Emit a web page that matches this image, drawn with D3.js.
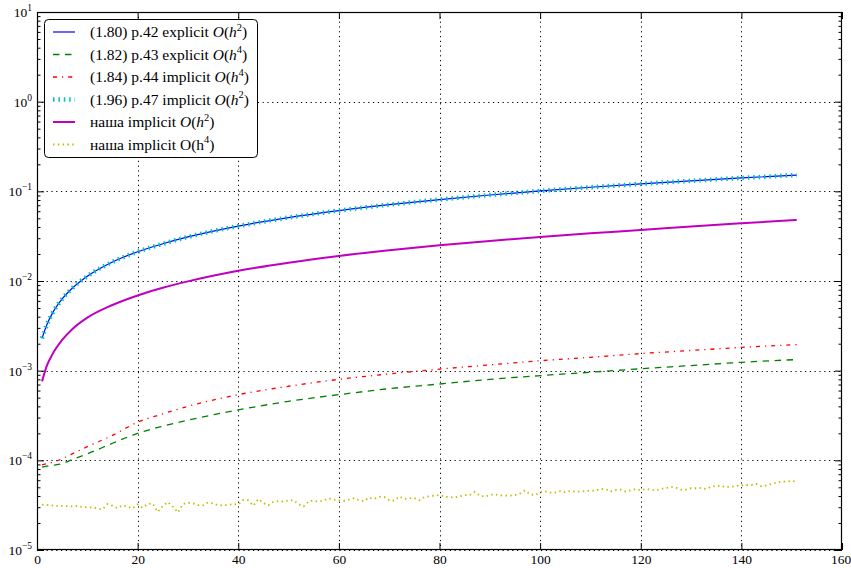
<!DOCTYPE html>
<html><head><meta charset="utf-8">
<script src="https://cdn.jsdelivr.net/npm/d3@7"></script>
<style>
body{margin:0;background:#fff}
svg{display:block}
text{font-family:"Liberation Serif","Times New Roman",serif;fill:#000}
</style>
</head><body>
<svg id="c" width="851" height="568"></svg>
<script>
// ---------- data ----------
const xSmooth = [1, 2, 3, 5, 7, 10, 15, 20, 25, 30, 40, 50, 60, 70, 80, 90, 100, 110, 120, 130, 140, 151];
const s180 = [0.0023, 0.0033, 0.0043, 0.0063, 0.0083, 0.0113, 0.0163, 0.0212, 0.026, 0.031, 0.041, 0.051, 0.061, 0.071, 0.081, 0.091, 0.101, 0.111, 0.121, 0.131, 0.141, 0.152];
const s182 = [8.4e-5, 8.6e-5, 8.8e-5, 9.2e-5, 1.02e-4, 1.18e-4, 1.55e-4, 2.0e-4, 2.4e-4, 2.8e-4, 3.65e-4, 4.55e-4, 5.4e-4, 6.3e-4, 7.1e-4, 8.0e-4, 8.8e-4, 9.6e-4, 1.05e-3, 1.14e-3, 1.24e-3, 1.33e-3];
const s184 = [8.9e-5, 9.2e-5, 9.5e-5, 1.04e-4, 1.18e-4, 1.42e-4, 1.9e-4, 2.66e-4, 3.3e-4, 4.0e-4, 5.4e-4, 6.7e-4, 8.0e-4, 9.2e-4, 1.04e-3, 1.16e-3, 1.29e-3, 1.41e-3, 1.55e-3, 1.68e-3, 1.82e-3, 1.95e-3];
const s196 = [0.0023, 0.0033, 0.0043, 0.0063, 0.0083, 0.0113, 0.0163, 0.0212, 0.026, 0.031, 0.041, 0.051, 0.061, 0.071, 0.081, 0.091, 0.101, 0.111, 0.121, 0.131, 0.141, 0.152];
const sOurH2 = [7.6e-4, 1.15e-3, 1.5e-3, 2.2e-3, 2.9e-3, 3.9e-3, 5.4e-3, 6.9e-3, 8.4e-3, 9.9e-3, 1.3e-2, 1.6e-2, 1.9e-2, 2.2e-2, 2.5e-2, 2.8e-2, 3.1e-2, 3.4e-2, 3.7e-2, 4.05e-2, 4.4e-2, 4.8e-2];
const xNoisy = d3.range(1, 152);
const sOurH4 = [
3.20e-5,3.18e-5,3.14e-5,3.10e-5,3.10e-5,3.08e-5,3.07e-5,3.09e-5,3.02e-5,2.99e-5,
2.99e-5,2.90e-5,2.84e-5,3.25e-5,3.12e-5,2.93e-5,3.15e-5,3.04e-5,2.92e-5,3.22e-5,
2.96e-5,3.26e-5,3.30e-5,2.66e-5,3.10e-5,3.43e-5,3.05e-5,2.62e-5,3.25e-5,3.37e-5,
3.32e-5,3.16e-5,3.15e-5,3.40e-5,3.30e-5,3.16e-5,3.15e-5,3.17e-5,3.26e-5,3.20e-5,
3.61e-5,3.58e-5,3.12e-5,3.71e-5,3.32e-5,3.16e-5,3.46e-5,3.52e-5,3.46e-5,3.58e-5,
3.58e-5,3.24e-5,3.06e-5,3.50e-5,3.55e-5,3.46e-5,3.58e-5,3.78e-5,3.64e-5,3.58e-5,
3.52e-5,3.64e-5,3.78e-5,3.60e-5,3.50e-5,3.84e-5,3.70e-5,3.93e-5,3.90e-5,3.60e-5,
3.55e-5,3.95e-5,3.71e-5,3.78e-5,3.80e-5,3.58e-5,3.90e-5,3.97e-5,4.04e-5,4.10e-5,
3.93e-5,3.90e-5,3.84e-5,3.97e-5,4.10e-5,4.10e-5,4.45e-5,4.04e-5,3.92e-5,4.12e-5,
4.18e-5,4.06e-5,4.04e-5,4.04e-5,4.10e-5,4.25e-5,4.62e-5,4.18e-5,4.10e-5,4.40e-5,
4.52e-5,4.36e-5,4.36e-5,4.55e-5,4.40e-5,4.55e-5,4.48e-5,4.48e-5,4.55e-5,4.59e-5,
4.59e-5,4.79e-5,4.79e-5,4.48e-5,4.67e-5,4.71e-5,4.48e-5,4.63e-5,4.79e-5,4.63e-5,
4.79e-5,4.71e-5,4.63e-5,4.79e-5,4.92e-5,5.05e-5,4.96e-5,4.71e-5,4.71e-5,4.88e-5,
4.88e-5,4.92e-5,4.79e-5,5.09e-5,5.18e-5,5.18e-5,5.00e-5,5.09e-5,5.18e-5,5.25e-5,
5.31e-5,5.31e-5,5.45e-5,5.12e-5,5.25e-5,5.45e-5,5.66e-5,5.78e-5,5.78e-5,5.89e-5,
5.80e-5];

const xTicks = [0, 20, 40, 60, 80, 100, 120, 140, 160];
const yDecades = [1e-5, 1e-4, 1e-3, 1e-2, 1e-1, 1, 10];
const yExponents = [-5, -4, -3, -2, -1, 0, 1];

const legendLabels = ["(1.80) p.42 explicit", "(1.82) p.43 explicit", "(1.84) p.44 implicit",
                      "(1.96) p.47 implicit", "наша implicit", "наша implicit"];
const legendOrders = [2, 4, 4, 2, 2, 4];
const legendMath = [true, true, true, true, true, false];

// ---------- layout ----------
const L = 37, R = 842, T = 12, B = 550;
const svg = d3.select("#c");
const x = d3.scaleLinear().domain([0, 160]).range([L, R]);
const y = d3.scaleLog().domain([1e-5, 10]).range([B, T]);

// grid
const grid = svg.append("g").attr("stroke", "#000").attr("stroke-width", 1)
  .attr("stroke-dasharray", "1.2,3.6").attr("fill", "none");
grid.selectAll("line.v").data(xTicks.slice(1, -1)).join("line")
  .attr("x1", d => Math.round(x(d)) + 0.5).attr("x2", d => Math.round(x(d)) + 0.5)
  .attr("y1", T).attr("y2", B);
grid.selectAll("line.h").data(yDecades).join("line")
  .attr("y1", d => Math.round(y(d)) + 0.5).attr("y2", d => Math.round(y(d)) + 0.5)
  .attr("x1", L).attr("x2", R);

// series
const styles = [
  {data: s180, xs: xSmooth, color: "#0000ff", w: 1.2, dash: null, curve: d3.curveMonotoneX},
  {data: s182, xs: xSmooth, color: "#008000", w: 1.3, dash: "6.5,5.5", curve: d3.curveMonotoneX},
  {data: s184, xs: xSmooth, color: "#ff0000", w: 1.3, dash: "4,5,1.2,5", curve: d3.curveMonotoneX},
  {data: s196, xs: xSmooth, color: "#00bfbf", w: 4.5, dash: "1.5,3.9", curve: d3.curveMonotoneX},
  {data: sOurH2, xs: xSmooth, color: "#bf00bf", w: 2, dash: null, curve: d3.curveMonotoneX},
  {data: sOurH4, xs: xNoisy, color: "#bfbf00", w: 1.8, dash: "1.5,3.3", curve: d3.curveLinear}
];
const plot = svg.append("g");
styles.forEach(s => {
  const line = d3.line().x((d, i) => x(s.xs[i])).y(d => y(d)).curve(s.curve);
  plot.append("path").datum(s.data).attr("d", line)
    .attr("fill", "none").attr("stroke", s.color).attr("stroke-width", s.w)
    .attr("stroke-dasharray", s.dash);
});

// axes
const minorVals = [];
yDecades.slice(0, -1).forEach(d => { for (let k = 2; k <= 9; k++) minorVals.push(d * k); });
function styleAxis(g) {
  g.select(".domain").remove();
  g.attr("font-family", null).attr("font-size", null);
  g.selectAll("line").attr("stroke", "#000");
}
const xb = svg.append("g").attr("transform", `translate(0,${B})`)
  .call(d3.axisBottom(x).tickValues(xTicks).tickSize(-7).tickPadding(4).tickFormat(d3.format("d")))
  .call(styleAxis);
xb.selectAll("text").style("font-size", "13.5px")
  .attr("dx", d => d === 160 ? -1.5 : 0);
svg.append("g").attr("transform", `translate(0,${T})`)
  .call(d3.axisTop(x).tickValues(xTicks).tickSize(-7).tickFormat(""))
  .call(styleAxis);
const yl = svg.append("g").attr("transform", `translate(${L},0)`)
  .call(d3.axisLeft(y).tickValues(yDecades).tickSize(-7).tickFormat(""))
  .call(styleAxis);
svg.append("g").attr("transform", `translate(${L},0)`)
  .call(d3.axisLeft(y).tickValues(minorVals).tickSize(-3.5).tickFormat(""))
  .call(styleAxis);
svg.append("g").attr("transform", `translate(${R},0)`)
  .call(d3.axisRight(y).tickValues(yDecades).tickSize(-7).tickFormat(""))
  .call(styleAxis);
svg.append("g").attr("transform", `translate(${R},0)`)
  .call(d3.axisRight(y).tickValues(minorVals).tickSize(-3.5).tickFormat(""))
  .call(styleAxis);

// y labels 10^n
yl.selectAll(".tick").each(function(d) {
  const t = d3.select(this).append("text").attr("x", -5).attr("y", 4.5)
    .attr("text-anchor", "end").style("font-size", "13.5px");
  t.append("tspan").text("10");
  const e = yExponents[yDecades.indexOf(d)];
  t.append("tspan").attr("dy", -6).style("font-size", "9.5px")
    .text(e < 0 ? "\u2212" + Math.abs(e) : String(e));
});

// frame
svg.append("rect").attr("x", L + 0.5).attr("y", T + 0.5).attr("width", R - L - 1).attr("height", B - T - 1)
  .attr("fill", "none").attr("stroke", "#000").attr("stroke-width", 1.2);

// legend
const lg = svg.append("g");
lg.append("rect").attr("x", 44.5).attr("y", 19.5).attr("width", 213).attr("height", 138).attr("rx", 4)
  .attr("fill", "#fff").attr("stroke", "#000").attr("stroke-width", 1);
styles.forEach((s, i) => {
  const yy = 32 + i * 22.5;
  lg.append("line").attr("x1", 53).attr("x2", 75).attr("y1", yy).attr("y2", yy)
    .attr("stroke", s.color).attr("stroke-width", s.w).attr("stroke-dasharray", s.dash);
  const t = lg.append("text").attr("x", 90).attr("y", yy + 5).style("font-size", "15.5px");
  t.append("tspan").text(legendLabels[i] + " ");
  if (legendMath[i]) {
    t.append("tspan").attr("font-style", "italic").text("O");
    t.append("tspan").text("(");
    t.append("tspan").attr("font-style", "italic").text("h");
  } else {
    t.append("tspan").text("O(h");
  }
  t.append("tspan").attr("dy", -6.5).style("font-size", "10.5px").text(String(legendOrders[i]));
  t.append("tspan").attr("dy", 6.5).text(")");
});
</script>
</body></html>
